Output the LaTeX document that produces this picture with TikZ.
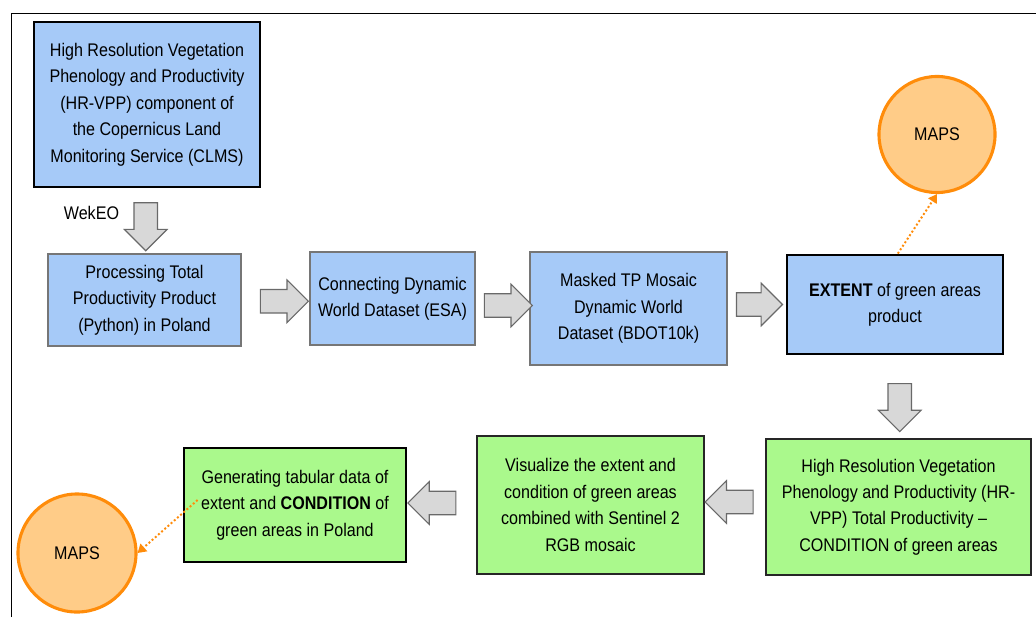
\documentclass[tikz,border=0pt]{standalone}
\usepackage{fontspec}
\setmainfont{Liberation Sans}[FakeStretch=0.88]
\usetikzlibrary{shapes.arrows,arrows.meta,calc}

\definecolor{boxblue}{RGB}{166,202,248}
\definecolor{boxgreen}{RGB}{170,249,140}
\definecolor{boxgray}{RGB}{118,118,118}
\definecolor{mapfill}{RGB}{255,204,136}
\definecolor{mapline}{RGB}{255,140,10}
\definecolor{arrowfill}{RGB}{216,216,216}
\definecolor{arrowline}{RGB}{105,105,105}

\begin{document}
\begin{tikzpicture}[x=0.025cm, y=-0.025cm,
    font=\fontsize{13}{18.8}\selectfont,
    box/.style={draw=boxgray, line width=0.9pt, align=center, inner sep=2pt},
    bluebox/.style={box, fill=boxblue},
    greenbox/.style={box, fill=boxgreen, draw=black!85, line width=1.3pt},
    heavy/.style={draw=black, line width=2pt},
    maps/.style={circle, fill=mapfill, draw=mapline, line width=2.2pt, minimum size=2.9cm},
    blk/.style={single arrow, fill=arrowfill, draw=arrowline, line width=0.8pt,
      inner xsep=0pt, inner ysep=0.28cm, single arrow head extend=0.24cm, minimum height=1.2cm},
    dots/.style={draw=mapline, line width=1.4pt, dash pattern=on 1.4pt off 1.6pt,
      -{Triangle[length=6pt,width=7pt]}}]
  \useasboundingbox (0,0) rectangle (1036,617);
  \draw[line width=0.7pt] (11,617) -- (11,13) -- (1036,13);

  % top row
  \node[bluebox, heavy, minimum width=5.65cm, minimum height=4.125cm] (top) at (147,104.5)
    {High Resolution Vegetation\\Phenology and Productivity\\(HR-VPP) component of\\the Copernicus Land\\Monitoring Service (CLMS)};
  \node[bluebox, minimum width=4.825cm, minimum height=2.3cm] (proc) at (144.5,300)
    {Processing Total\\Productivity Product\\(Python) in Poland};
  \node[bluebox, minimum width=4.125cm, minimum height=2.325cm] (conn) at (392.5,298.5)
    {Connecting Dynamic\\World Dataset (ESA)};
  \node[bluebox, minimum width=4.925cm, minimum height=2.825cm] (mask) at (628.5,308.5)
    {Masked TP Mosaic\\Dynamic World\\Dataset (BDOT10k)};
  \node[bluebox, heavy, minimum width=5.4cm, minimum height=2.475cm] (ext) at (895,304.5)
    {\textbf{EXTENT} of green areas\\product};
  \node[maps] (mapsA) at (937,134.5) {MAPS};

  % bottom row
  \node[greenbox, minimum width=6.625cm, minimum height=3.4cm] (hrg) at (898.5,507)
    {High Resolution Vegetation\\Phenology and Productivity (HR-\\VPP) Total Productivity –\\CONDITION of green areas};
  \node[greenbox, minimum width=5.675cm, minimum height=3.45cm] (vis) at (590.5,505)
    {Visualize the extent and\\condition of green areas\\combined with Sentinel 2\\RGB mosaic};
  \node[greenbox, heavy, minimum width=5.55cm, minimum height=2.85cm] (gen) at (295,505)
    {Generating tabular data of\\extent and \textbf{CONDITION} of\\green areas in Poland};
  \node[maps, minimum size=2.95cm] (mapsB) at (77,553) {MAPS};

  % block arrows
  \node[blk, rotate=-90] (dnA) at ($(top.south)!0.5!(proc.north)$) {};
  \node[anchor=east] (wek) at (124,213) {WekEO};
  \node[blk] (rA) at ($(proc.east)!0.5!(conn.west)+(3,2)$) {};
  \node[blk] (rB) at ($(conn.east)!0.5!(mask.west)+(0,2)$) {};
  \node[blk, minimum height=1.15cm] (rC) at ($(mask.east)!0.5!(ext.west)+(-3,-2)$) {};
  \node[blk, rotate=-90] (dnB) at ($(ext.south)!0.5!(hrg.north)+(3,5)$) {};
  \node[blk, rotate=180] (lA) at ($(vis.east)!0.5!(hrg.west)+(0,-4)$) {};
  \node[blk, rotate=180] (lB) at ($(gen.east)!0.5!(vis.west)+(-4,-2)$) {};

  % output maps
  \coordinate (genDot) at ([shift={(15,-5)}]gen.west);
  \draw[dots] ([xshift=2]ext.north) -- (mapsA.south);
  \draw[dots] (genDot) -- (mapsB.east);
\end{tikzpicture}
\end{document}
